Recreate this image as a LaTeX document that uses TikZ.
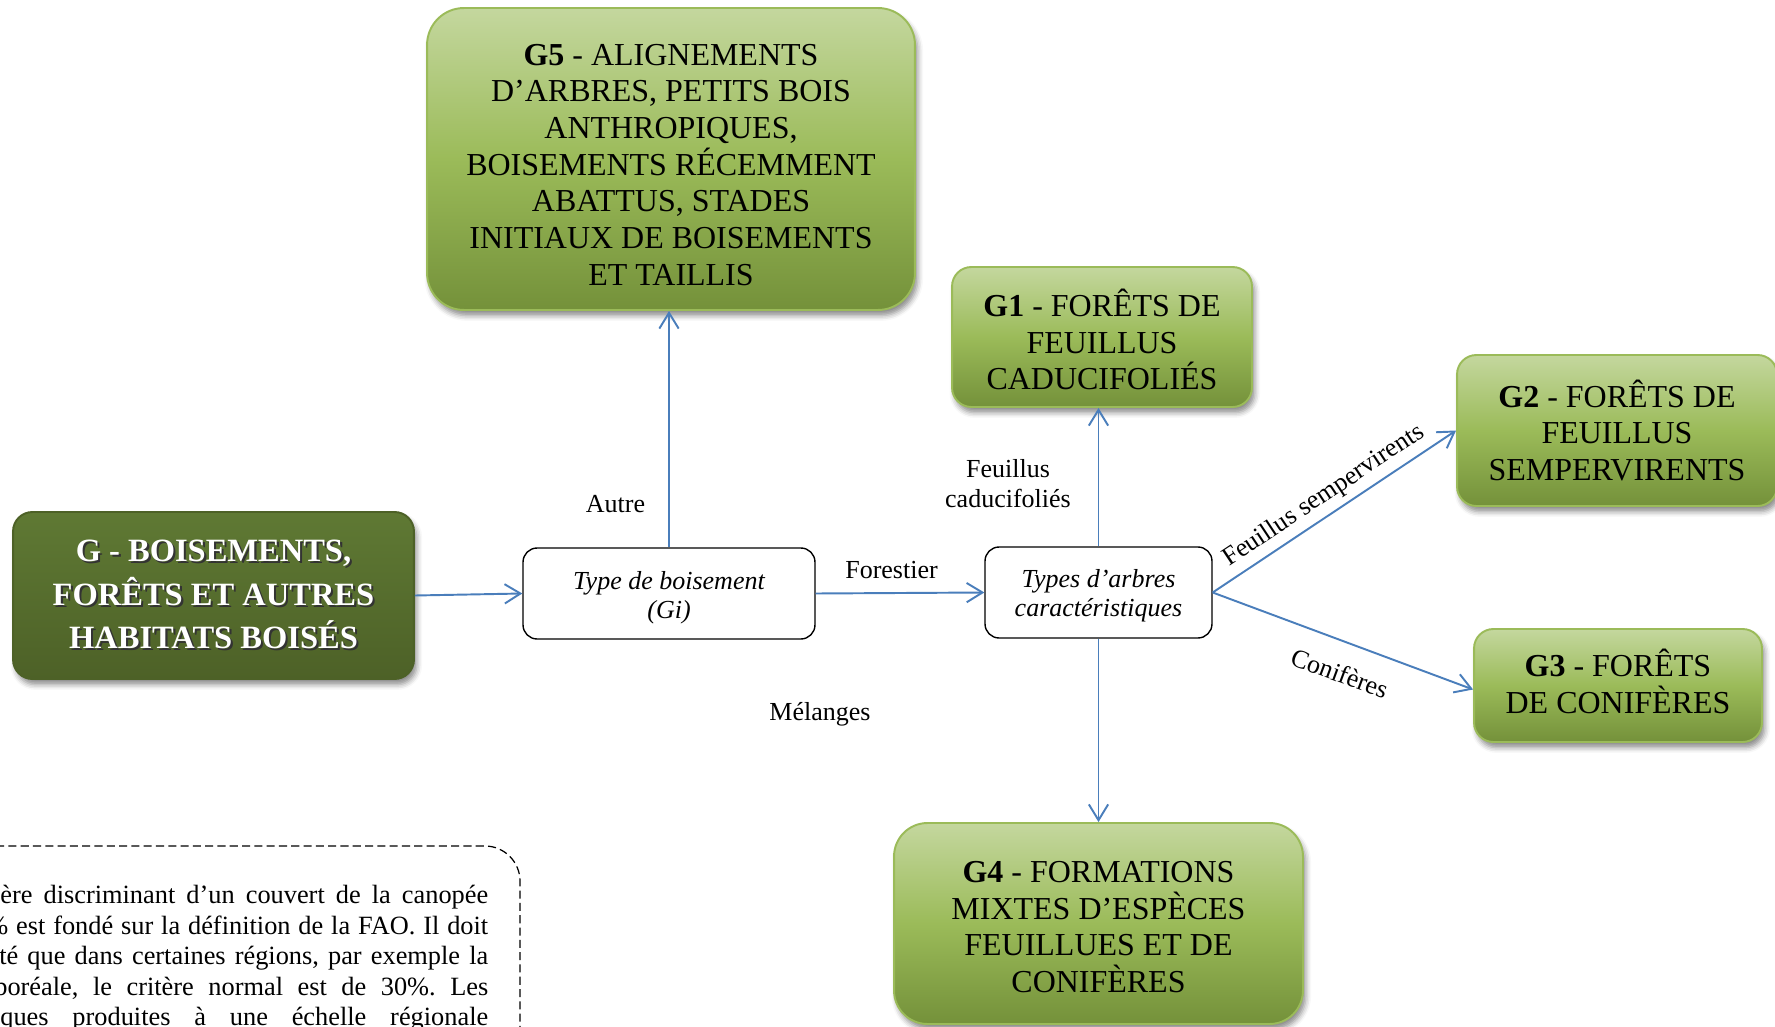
\documentclass[tikz,border=0pt]{standalone}
\usepackage{fontspec}
\setmainfont{Liberation Serif}
\usetikzlibrary{arrows.meta,calc,shadows.blur}
\frenchspacing

\definecolor{arrowblue}{RGB}{74,126,187}
\definecolor{leaftop}{RGB}{196,215,158}
\definecolor{leafmid}{RGB}{155,187,89}
\definecolor{leafbot}{RGB}{116,145,58}
\definecolor{leafedge}{RGB}{155,187,89}
\definecolor{olivetop}{RGB}{95,121,52}
\definecolor{olivebot}{RGB}{77,97,39}

\newcommand{\boxfont}{\fontsize{18.2pt}{20.9pt}\selectfont}
\newcommand{\headfont}{\fontsize{18.5pt}{24.8pt}\selectfont\bfseries}
\newcommand{\lblfont}{\fontsize{14.8pt}{17pt}\selectfont}
\newcommand{\stepfont}{\fontsize{14.8pt}{16.8pt}\selectfont\itshape}
\newcommand{\notefont}{\fontsize{15pt}{17pt}\selectfont}
% white heading text with a dark offset copy underneath
\newcommand{\embossed}[1]{\makebox[0pt][l]{\hspace{1.2pt}\raisebox{-1.2pt}{\color{black!80}#1}}#1}
% invisible struts that nudge a box's text block down (taller first line)
% or up (deeper last line)
\newcommand{\headroom}[1]{\rule{0pt}{#1}}
\newcommand{\footroom}[1]{\rule[-#1]{0pt}{#1}}

\tikzset{
  softshadow/.style={blur shadow={shadow xshift=1.6pt, shadow yshift=-3.2pt,
      shadow blur radius=3pt, shadow opacity=45}},
  leafbox/.style={draw=leafedge, line width=1.1pt, top color=leaftop,
      bottom color=leafbot, middle color=leafmid, align=center, text=black,
      font=\boxfont, inner sep=0pt, softshadow},
  headbox/.style={draw=olivebot, line width=1.1pt, top color=olivetop,
      bottom color=olivebot, align=center, text=white, font=\headfont,
      inner sep=0pt, rounded corners=11pt, softshadow},
  stepbox/.style={draw=black, line width=0.8pt, fill=white, align=center,
      font=\stepfont, inner sep=0pt, rounded corners=8pt},
  lbl/.style={font=\lblfont, align=center},
  flow/.style={draw=arrowblue, line width=1.1pt,
      -{Straight Barb[length=9pt,width=11pt]}},
}

\begin{document}
\begin{tikzpicture}[x=0.02cm, y=-0.02cm]
\useasboundingbox (0,0) rectangle (1775,1027);
\clip (0,0) rectangle (1775,1027);

% note frame and its text, running off the lower left corner
\draw[dash pattern=on 4.6pt off 2.4pt, line width=0.7pt, rounded corners=20pt]
  (-80,846) rectangle (520,1140);
\begin{scope}[every node/.style={font=\notefont, inner sep=0pt, anchor=base west}]
  \node (n1) at (0,903)    {\makebox[9.76cm][s]{ère discriminant d’un couvert de la canopée}};
  \node (n2) at (-14,934)  {\makebox[10.04cm][s]{\% est fondé sur la définition de la FAO. Il doit}};
  \node (n3) at (-1,964)   {\makebox[9.78cm][s]{té que dans certaines régions, par exemple la}};
  \node (n4) at (-6,995)   {\makebox[9.88cm][s]{boréale, le critère normal est de 30\%. Les}};
  \node (n5) at (0,1025)   {\makebox[9.76cm][s]{ques produites à une échelle régionale}};
\end{scope}

% main boxes
\node[headbox, minimum width=8.02cm, minimum height=3.34cm] (G) at (213.5,595.5)
  {\embossed{G - BOISEMENTS,}\\\embossed{FORÊTS ET AUTRES}\\\embossed{HABITATS BOISÉS}};

\node[leafbox, rounded corners=21pt, minimum width=9.76cm, minimum height=6.04cm] (G5) at (671,159)
  {\headroom{18.7pt}\textbf{G5} - ALIGNEMENTS\\D’ARBRES, PETITS BOIS\\ANTHROPIQUES,\\BOISEMENTS RÉCEMMENT\\ABATTUS, STADES\\INITIAUX DE BOISEMENTS\\ET TAILLIS};

\node[leafbox, rounded corners=11pt, minimum width=6.0cm, minimum height=2.8cm] (G1) at (1102,337)
  {\headroom{18.6pt}\textbf{G1} - FORÊTS DE\\FEUILLUS\\CADUCIFOLIÉS};

\node[leafbox, rounded corners=11pt, minimum width=6.4cm, minimum height=3.02cm] (G2) at (1617,430.5)
  {\textbf{G2} - FORÊTS DE\\FEUILLUS\\SEMPERVIRENTS};

\node[leafbox, rounded corners=11pt, minimum width=5.76cm, minimum height=2.26cm] (G3) at (1618,685.5)
  {\textbf{G3} - FORÊTS\\DE CONIFÈRES\footroom{5.2pt}};

\node[leafbox, rounded corners=19pt, minimum width=8.18cm, minimum height=4.02cm] (G4) at (1098.5,923.5)
  {\headroom{16.1pt}\textbf{G4} - FORMATIONS\\MIXTES D’ESPÈCES\\FEUILLUES ET DE\\CONIFÈRES};

% decision steps
\node[stepbox, minimum width=5.84cm, minimum height=1.82cm] (type) at (669,593.5)
  {\headroom{15.3pt}Type de boisement\\(Gi)};
\node[stepbox, minimum width=4.54cm, minimum height=1.82cm] (types) at (1098.5,592.5)
  {\headroom{14pt}Types d’arbres\\caractéristiques};

% connectors
\draw[flow] (G.east) -- (type.west);
\draw[flow] (type.north) -- (type.north |- G5.south);
\draw[flow] (type.east) -- (types.west);
\draw[flow] (types.north) -- (types.north |- G1.south);
\draw[flow] (types.south) -- (types.south |- G4.north);
\draw[flow] (types.east) -- node[lbl, midway, above, sloped] {Feuillus sempervirents} (G2.west);
\draw[flow] (types.east) -- node[lbl, pos=0.53, below, sloped, inner sep=12pt] {Conifères}
  ($(G3.west)+(0,4)$);

% branch labels
\node[lbl, anchor=base] (autre) at (615.5,512) {Autre};
\node[lbl, anchor=base] (forest) at (891.5,578) {Forestier};
\node[lbl] (cadu) at (1008,484) {Feuillus\\caducifoliés};
\node[lbl, anchor=base] (melange) at (820,720) {Mélanges};
\end{tikzpicture}
\end{document}
